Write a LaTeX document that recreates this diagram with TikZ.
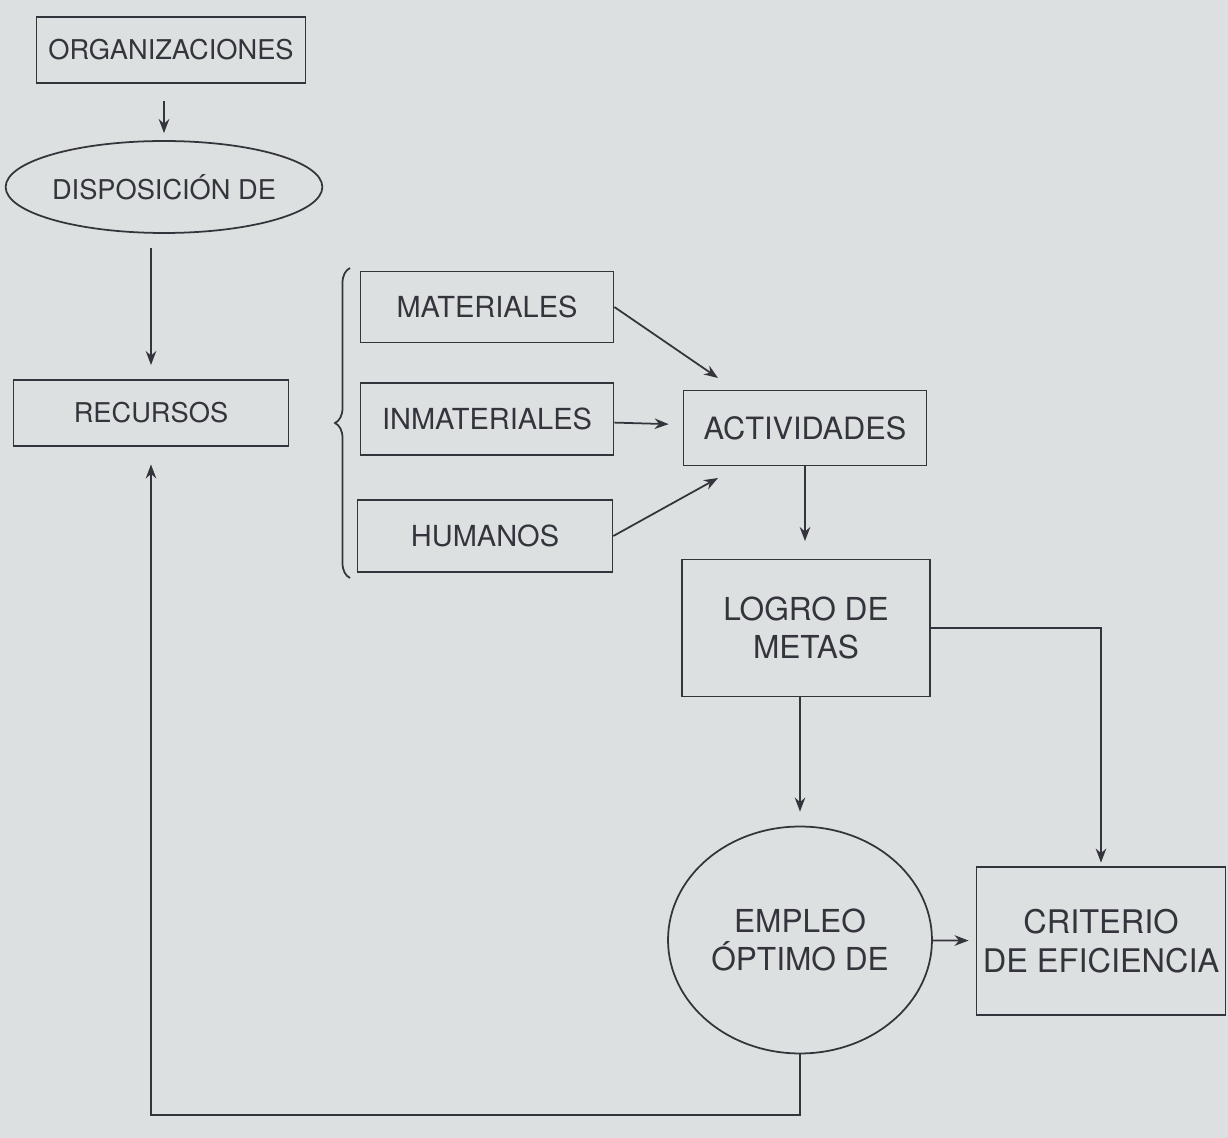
\documentclass[tikz,border=0pt]{standalone}
\usepackage{fontspec}
\setmainfont{TeX Gyre Heros}
\usetikzlibrary{shapes.geometric,decorations.pathreplacing,arrows.meta}
\definecolor{paper}{HTML}{DDE0E0}
\definecolor{ink}{HTML}{34353C}
\newcommand{\fsz}[1]{\fontsize{#1}{1.2\dimexpr#1pt\relax}\selectfont}
\begin{document}
\begin{tikzpicture}[x=0.02cm,y=-0.02cm,>={Stealth[length=8pt,width=6pt]},
        box/.style={rectangle,draw=ink,line width=1pt,inner sep=0pt,align=center},
        oval/.style={ellipse,draw=ink,line width=1pt,inner sep=0pt,align=center},
        every node/.append style={text=ink}]
        \fill[paper] (0,0) rectangle (1228,1138);
        \useasboundingbox (0,0) rectangle (1228,1138);
        \begin{scope}[line width=1pt,draw=ink]
            \node[box,minimum width=5.38cm,minimum height=1.32cm,font=\fsz{15.5}] (org) at (171,50) {ORGANIZACIONES};
            \node[oval,minimum width=5.84cm,minimum height=1.84cm,font=\fsz{15.5}] (disp) at (164,187) {DISPOSICIÓN DE};
            \node[box,minimum width=5.5cm,minimum height=1.32cm,font=\fsz{15.5}] (rec) at (151,413) {RECURSOS};
            \node[box,minimum width=5.06cm,minimum height=1.42cm,font=\fsz{16.5}] (mat) at (487,307) {MATERIALES};
            \node[box,minimum width=5.06cm,minimum height=1.44cm,font=\fsz{16.5}] (inmat) at (487,419) {INMATERIALES};
            \node[box,minimum width=5.1cm,minimum height=1.44cm,font=\fsz{16.5}] (hum) at (485,536) {HUMANOS};
            \node[box,minimum width=4.86cm,minimum height=1.5cm,font=\fsz{17.5}] (act) at (805,428) {ACTIVIDADES};
            \node[box,minimum width=4.96cm,minimum height=2.74cm,font=\fsz{18}] (logro) at (806,628) {LOGRO DE\\METAS};
            \node[oval,minimum width=5.28cm,minimum height=4.54cm,font=\fsz{18}] (emp) at (800,940) {EMPLEO\\ÓPTIMO DE};
            \node[box,minimum width=4.98cm,minimum height=2.96cm,font=\fsz{18.5}] (crit) at (1101,941) {CRITERIO\\DE EFICIENCIA};
        \end{scope}
        \coordinate (matend) at (718,378);
        \coordinate (humend) at (718,478);
        \coordinate (loop) at (800,1115);
        \draw [ink,line width=1pt,decorate,decoration={brace,amplitude=0.3cm}] (350,578) -- (350,268);
        \begin{scope}[ink,line width=1pt]
            \draw [->,shorten <=10pt,shorten >=4pt] (disp.north |- org.south) -- (disp.north);
            \draw [->,shorten <=8pt,shorten >=8pt] (rec.north |- disp.south) -- (rec.north);
            \draw [->] (mat.east) -- (matend);
            \draw [->,shorten >=8pt] (inmat) -- (act);
            \draw [->] (hum.east) -- (humend);
            \draw [->,shorten >=10pt] (act.south) -- (act.south |- logro.north);
            \draw [->,shorten >=8pt] (emp.north |- logro.south) -- (emp.north);
            \draw [->,shorten >=4pt] (emp) -- (crit);
            \draw [->,shorten >=2pt] (logro.east) -| (crit.north);
            \draw [->,shorten >=10pt] (emp.south) -- (loop) -| (rec.south);
        \end{scope}
    \end{tikzpicture}
\end{document}
